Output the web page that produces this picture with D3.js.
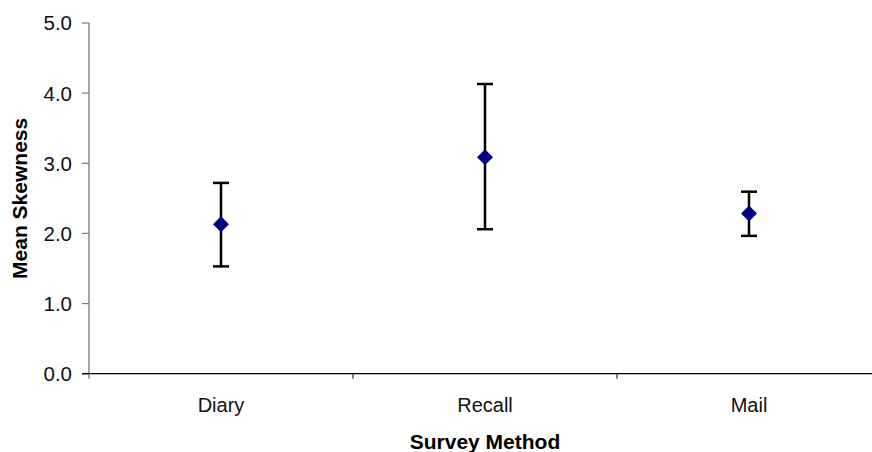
<!DOCTYPE html>
<html><head><meta charset="utf-8">
<script src="https://cdn.jsdelivr.net/npm/d3@7"></script>
<style>body{margin:0;background:#fff}svg{display:block}text{font-family:"Liberation Sans",Arial,sans-serif}</style>
</head><body><svg id="c" width="872" height="452"></svg>
<script>
const categories = ["Diary", "Recall", "Mail"];
const means = [2.13, 3.085, 2.285];
const upper = [2.72, 4.13, 2.595];
const lower = [1.53, 2.06, 1.965];
const yTicks = [0, 1, 2, 3, 4, 5];

const svg = d3.select("#c");
const x = d3.scaleBand().domain(categories).range([89, 881]).padding(0);
const y = d3.scaleLinear().domain([0, 5]).range([373.7, 23]);

// x axis line
svg.append("line").attr("x1", 82).attr("x2", 881).attr("y1", y(0)).attr("y2", y(0))
  .attr("stroke", "#000").attr("stroke-width", 1.3);
// x ticks at band boundaries
categories.slice(1).forEach(c => {
  svg.append("line").attr("x1", x(c)).attr("x2", x(c)).attr("y1", y(0)).attr("y2", y(0) + 5)
    .attr("stroke", "#000").attr("stroke-width", 1);
});
// y axis
svg.append("line").attr("x1", 89).attr("x2", 89).attr("y1", y(5)).attr("y2", y(0) + 5)
  .attr("stroke", "#777").attr("stroke-width", 1.3);
const yg = svg.append("g");
yTicks.forEach(t => {
  yg.append("line").attr("x1", 82).attr("x2", 89).attr("y1", y(t)).attr("y2", y(t))
    .attr("stroke", t === 0 ? "#000" : "#777").attr("stroke-width", 1.2);
  yg.append("text").attr("x", 72).attr("y", y(t)).attr("dy", "0.36em").attr("text-anchor", "end")
    .attr("font-size", 20.5).attr("fill", "#111").text(d3.format(".1f")(t));
});
// category labels
categories.forEach(c => {
  svg.append("text").attr("x", x(c) + x.bandwidth() / 2).attr("y", 411.5).attr("text-anchor", "middle")
    .attr("font-size", 20).attr("fill", "#111").text(c);
});
// axis titles
svg.append("text").attr("x", 485).attr("y", 448.5).attr("text-anchor", "middle")
  .attr("font-size", 21).attr("font-weight", "bold").text("Survey Method");
svg.append("text").attr("transform", "translate(26.5," + ((y(0) + y(5)) / 2) + ") rotate(-90)")
  .attr("text-anchor", "middle").attr("font-size", 21).attr("font-weight", "bold").text("Mean Skewness");

// error bars
const g = svg.append("g");
categories.forEach((c, i) => {
  const cx = x(c) + x.bandwidth() / 2;
  g.append("line").attr("x1", cx).attr("x2", cx).attr("y1", y(upper[i])).attr("y2", y(lower[i]))
    .attr("stroke", "#000").attr("stroke-width", 2.5);
  [upper[i], lower[i]].forEach(v => {
    g.append("line").attr("x1", cx - 8).attr("x2", cx + 8).attr("y1", y(v)).attr("y2", y(v))
      .attr("stroke", "#000").attr("stroke-width", 2.5);
  });
  const cy = y(means[i]);
  g.append("path").attr("d", `M${cx},${cy - 8}L${cx + 8},${cy}L${cx},${cy + 8}L${cx - 8},${cy}Z`)
    .attr("fill", "#000080");
});
</script></body></html>
